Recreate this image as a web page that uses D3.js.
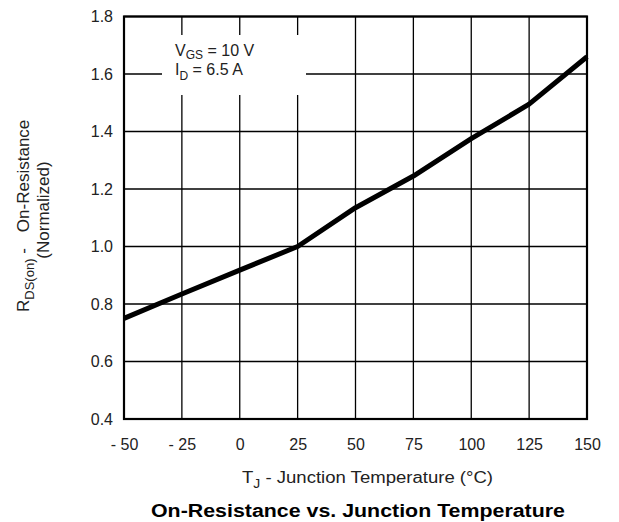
<!DOCTYPE html>
<html>
<head>
<meta charset="utf-8">
<script src="https://cdn.jsdelivr.net/npm/d3@7"></script>
<style>
    body { margin: 0; background: #fff; }
    svg { display: block; font-family: "Liberation Sans", Arial, Helvetica, sans-serif; }
</style>
</head>
<body>
<svg class="rds-chart"></svg>
<script>
// junction temperature (C) and normalized on-resistance
const temps = [-50, -25, 0, 25, 50, 75, 100, 125, 150];
const rdsNorm = [0.75, 0.835, 0.918, 1.0, 1.135, 1.245, 1.375, 1.495, 1.66];

const xTicks = [-50, -25, 0, 25, 50, 75, 100, 125, 150];
const yTicks = [0.4, 0.6, 0.8, 1.0, 1.2, 1.4, 1.6, 1.8];

function genRdsChart() {
    // Set dimensions and margins
    const width = 619;
    const height = 522;
    const margin = {top: 16.5, right: 32, bottom: 103, left: 124};

    const svg = d3.select("svg.rds-chart")
        .attr("width", width)
        .attr("height", height);

    // Scales
    const x = d3.scaleLinear()
        .domain([-50, 150])
        .range([margin.left, width - margin.right]);
    const y = d3.scaleLinear()
        .domain([0.4, 1.8])
        .range([height - margin.bottom, margin.top]);

    // Grid lines
    const grid = svg.append("g").attr("class", "grid");
    grid.selectAll("line.vx")
        .data(xTicks)
        .enter().append("line")
        .attr("class", "vx")
        .attr("x1", d => x(d)).attr("x2", d => x(d))
        .attr("y1", y(0.4)).attr("y2", y(1.8))
        .style("stroke", "#000")
        .style("stroke-width", 1.3);
    grid.selectAll("line.hy")
        .data(yTicks)
        .enter().append("line")
        .attr("class", "hy")
        .attr("x1", x(-50)).attr("x2", x(150))
        .attr("y1", d => y(d)).attr("y2", d => y(d))
        .style("stroke", "#000")
        .style("stroke-width", 1.3);

    // Axes (labels only, the frame is drawn separately)
    const xAxis = d3.axisBottom(x)
        .tickValues(xTicks)
        .tickSize(0)
        .tickPadding(20)
        .tickFormat(d => d < 0 ? "- " + Math.abs(d) : d);
    svg.append("g")
        .attr("transform", `translate(0,${y(0.4)})`)
        .call(xAxis)
        .call(g => g.select(".domain").remove())
        .selectAll("text")
        .style("font-size", "16px")
        .style("font-family", "inherit")
        .style("fill", "#222");

    const yAxis = d3.axisLeft(y)
        .tickValues(yTicks)
        .tickSize(0)
        .tickPadding(11)
        .tickFormat(d3.format(".1f"));
    svg.append("g")
        .attr("transform", `translate(${x(-50)},0)`)
        .call(yAxis)
        .call(g => g.select(".domain").remove())
        .selectAll("text")
        .style("font-size", "16px")
        .style("font-family", "inherit")
        .style("fill", "#222");

    // Legend box sits on top of the grid
    const legend = svg.append("g").attr("class", "legend");
    legend.append("rect")
        .attr("x", 162).attr("y", 35)
        .attr("width", 144).attr("height", 60)
        .style("fill", "#fff");
    const l1 = legend.append("text")
        .attr("x", 175).attr("y", 56)
        .style("font-size", "16px")
        .style("fill", "#222");
    l1.append("tspan").text("V");
    l1.append("tspan").attr("dy", 3).style("font-size", "12px").text("GS");
    l1.append("tspan").attr("dy", -3).text(" = 10 V");
    const l2 = legend.append("text")
        .attr("x", 175).attr("y", 75)
        .style("font-size", "16px")
        .style("fill", "#222");
    l2.append("tspan").text("I");
    l2.append("tspan").attr("dy", 5).style("font-size", "12px").text("D");
    l2.append("tspan").attr("dy", -5).text(" = 6.5 A");

    // Curve
    const line = d3.line()
        .x(d => x(d[0]))
        .y(d => y(d[1]));
    svg.append("path")
        .datum(d3.zip(temps, rdsNorm))
        .attr("d", line)
        .style("fill", "none")
        .style("stroke", "#000")
        .style("stroke-width", 5)
        .style("stroke-linejoin", "round");

    // Frame
    svg.append("rect")
        .attr("x", x(-50)).attr("y", y(1.8))
        .attr("width", x(150) - x(-50))
        .attr("height", y(0.4) - y(1.8))
        .style("fill", "none")
        .style("stroke", "#000")
        .style("stroke-width", 2.2);

    // X axis title
    const xt = svg.append("text")
        .attr("x", 242).attr("y", 483)
        .attr("textLength", 251)
        .attr("lengthAdjust", "spacingAndGlyphs")
        .style("font-size", "16px")
        .style("fill", "#222");
    xt.append("tspan").text("T");
    xt.append("tspan").attr("dy", 5).style("font-size", "12px").text("J");
    xt.append("tspan").attr("dy", -5).text(" -  Junction Temperature (°C)");

    // Y axis title, two lines
    const yt = svg.append("g")
        .attr("transform", "translate(29,210) rotate(-90)");
    const yl1 = yt.append("text")
        .attr("x", -102).attr("y", 0)
        .style("font-size", "17px")
        .style("fill", "#222");
    yl1.append("tspan").text("R");
    yl1.append("tspan").attr("dy", 5).style("font-size", "13px").text("DS(on)");
    yl1.append("tspan").attr("dy", -5).text(" -");
    yl1.append("tspan").attr("dx", 16).text("On-Resistance");
    yt.append("text")
        .attr("x", 0).attr("y", 20)
        .attr("text-anchor", "middle")
        .style("font-size", "17px")
        .style("fill", "#222")
        .text("(Normalized)");

    // Chart title
    svg.append("text")
        .attr("x", 358).attr("y", 517)
        .attr("text-anchor", "middle")
        .attr("textLength", 414)
        .attr("lengthAdjust", "spacingAndGlyphs")
        .style("font-size", "18px")
        .style("font-weight", "bold")
        .style("fill", "#000")
        .text("On-Resistance vs. Junction Temperature");
}

genRdsChart();
</script>
</body>
</html>
